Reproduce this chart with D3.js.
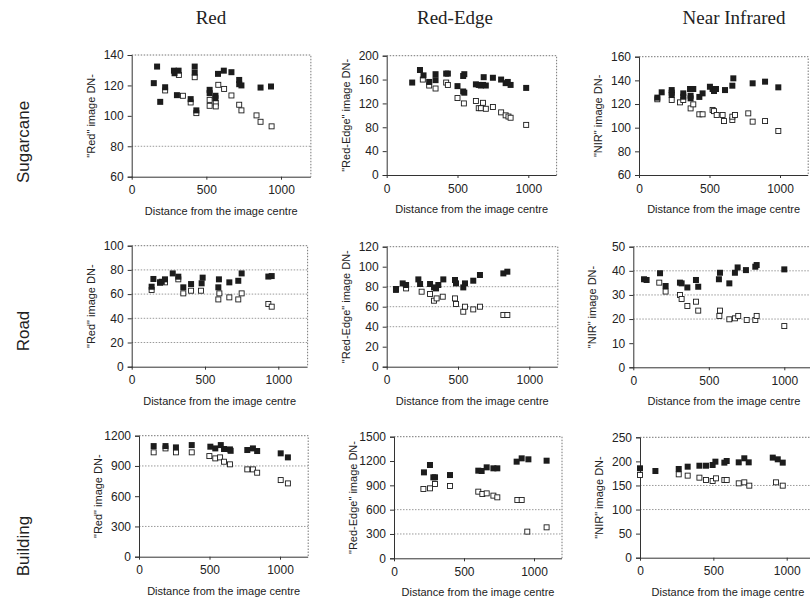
<!DOCTYPE html>
<html><head><meta charset="utf-8">
<script src="https://cdn.jsdelivr.net/npm/d3@7"></script>
<style>body{margin:0;background:#fff}</style>
</head><body><svg id="c" width="810" height="601"></svg>
<script>
// ---------- labels ----------
const bandTitles = ["Red", "Red-Edge", "Near Infrared"];
const coverTitles = ["Sugarcane", "Road", "Building"];
const yTitles = ['"Red" image DN-', '"Red-Edge" image DN-', '"NIR" image DN-'];
const xTitle = "Distance from the image centre";
const xTickValues = [0, 500, 1000];
const xDomain = [0, 1200];

// ---------- y tick labels per panel (row-major) ----------
const yTicksSugarRed = [60, 80, 100, 120, 140];
const yTicksSugarEdge = [0, 40, 80, 120, 160, 200];
const yTicksSugarNir = [60, 80, 100, 120, 140, 160];
const yTicksRoadRed = [0, 20, 40, 60, 80, 100];
const yTicksRoadEdge = [0, 20, 40, 60, 80, 100, 120];
const yTicksRoadNir = [0, 10, 20, 30, 40, 50];
const yTicksBldRed = [0, 300, 600, 900, 1200];
const yTicksBldEdge = [0, 300, 600, 900, 1200, 1500];
const yTicksBldNir = [0, 50, 100, 150, 200, 250];

// ---------- data: [distance, DN] ; filled = one series, open = other ----------
const sugarRedFilled = [[148,121.5],[170,132.4],[191,109.2],[224,118.8],[283,129.7],[287,128],[314,129.7],[303,113.6],[395,111],[422,132.4],[422,128.4],[433,103.6],[522,117.1],[522,114.9],[561,113.2],[561,111.6],[578,127.6],[617,129.7],[668,128.7],[720,123.6],[720,120.8],[735,120],[863,118.6],[933,119.3]];
const sugarRedOpen = [[224,116.7],[316,126.9],[343,113.2],[395,108.8],[422,125.4],[433,101.8],[522,110.5],[522,106.6],[563,108.4],[563,106.2],[580,120.4],[619,117.7],[668,113.4],[720,107.3],[735,103.6],[836,100.3],[863,96.1],[937,93.1]];

const sugarEdgeFilled = [[180,155],[235,176],[260,167],[300,156],[345,169],[345,159],[420,170],[432,170],[500,149],[540,166],[548,169],[540,140],[548,138],[630,152],[650,151],[665,150],[680,151],[685,164],[700,150],[750,163],[808,160],[840,154],[855,156],[875,151],[985,146]];
const sugarEdgeOpen = [[255,160],[300,150],[345,145],[420,155],[432,151],[500,129],[545,120],[630,124],[650,112],[665,112],[680,121],[700,111],[750,114],[808,105],[840,100],[860,98],[875,96],[985,84]];

const sugarNirFilled = [[130,125.4],[161,129.9],[232,131.8],[232,129.6],[232,127.6],[314,129],[314,126.2],[362,132.7],[385,132.7],[366,127],[366,124.8],[428,126],[451,129],[503,134.6],[522,132.7],[532,131],[546,132.7],[610,131.8],[662,135.5],[669,141.7],[806,137.5],[894,138.9],[988,134.1]];
const sugarNirOpen = [[130,124],[232,123.4],[291,121.4],[314,123.4],[366,116.3],[385,119.7],[428,111.3],[451,111.3],[522,115],[532,114],[551,110.7],[593,110.7],[603,105.6],[662,106.5],[662,109.3],[681,110.7],[775,112.1],[806,105.1],[894,105.6],[988,97.2]];

const roadRedFilled = [[136,66.1],[148,72.5],[193,69.7],[205,70.2],[227,72.2],[280,77.1],[318,74.4],[352,65.6],[405,68.3],[477,68.9],[484,73.6],[591,65.6],[595,72.2],[666,69.7],[727,71],[750,77.1],[932,74.5],[955,74.9]];
const roadRedOpen = [[136,63.4],[193,69.4],[227,69.7],[318,72.2],[352,60.6],[405,62.8],[473,62.8],[591,55.6],[598,60.6],[666,57.3],[727,55.6],[750,60.6],[932,51.8],[955,49.6]];

const roadEdgeFilled = [[65,77.7],[112,83.3],[136,81.7],[222,87.3],[234,82.7],[304,82.7],[332,79.3],[346,78.3],[362,81.7],[397,87.3],[479,86.7],[486,83.3],[537,79.3],[549,83.3],[607,86],[654,91.7],[818,93.3],[846,95]];
const roadEdgeOpen = [[65,76.7],[136,78.3],[245,75],[304,72.7],[332,66],[350,68.3],[393,70],[479,68.3],[486,62.7],[537,55],[549,60],[607,57.3],[654,60],[818,51.7],[846,51.7]];

const roadNirFilled = [[71,36.5],[88,36.2],[177,39],[214,33.7],[309,35.1],[320,34.8],[358,33.1],[415,36.2],[430,33.4],[567,36.5],[574,39.2],[636,34.8],[673,39.2],[691,41.4],[746,40.3],[808,41.7],[817,42.4],[1000,40.6]];
const roadNirOpen = [[172,35.1],[214,31.4],[309,30],[320,28.3],[358,25.4],[415,27.2],[430,23.5],[570,21.3],[574,23.5],[636,19.9],[673,20.3],[695,21.3],[751,19.6],[808,19.6],[817,21.3],[1000,17.1]];

const bldRedFilled = [[104,1097],[188,1097],[262,1084],[374,1107],[506,1091],[541,1074],[580,1107],[603,1068],[645,1064],[650,1050],[768,1058],[808,1074],[838,1048],[1005,1025],[1056,985]];
const bldRedOpen = [[104,1035],[188,1074],[262,1035],[374,1035],[499,998],[541,975],[575,985],[603,942],[645,916],[768,866],[808,866],[838,833],[1005,760],[1056,727]];

const bldEdgeFilled = [[214,1060],[257,1151],[281,999],[293,999],[400,1027],[602,1081],[626,1077],[662,1122],[710,1110],[738,1110],[876,1192],[912,1233],[960,1221],[1090,1204]];
const bldEdgeOpen = [[210,855],[257,863],[293,916],[400,892],[602,822],[631,793],[662,801],[710,773],[738,752],[881,719],[912,719],[952,329],[1090,382]];

const bldNirFilled = [[0,185.6],[105,180],[264,184.2],[325,189],[405,191],[450,191],[495,192.5],[514,199.4],[575,197.4],[591,200.8],[673,198],[711,206.4],[741,198],[905,207.8],[939,204.3],[973,197.4]];
const bldNirOpen = [[0,171.7],[264,173.1],[325,170.4],[405,166.2],[450,161.4],[495,159.3],[518,164.8],[575,161.4],[591,161.4],[673,154.4],[711,156.5],[745,149.6],[927,156.5],[973,149.6]];

// ---------- panel assembly ----------
const panels = [
  {row:0,col:0,filled:sugarRedFilled,open:sugarRedOpen,yTicks:yTicksSugarRed,grid:[80]},
  {row:0,col:1,filled:sugarEdgeFilled,open:sugarEdgeOpen,yTicks:yTicksSugarEdge,grid:[]},
  {row:0,col:2,filled:sugarNirFilled,open:sugarNirOpen,yTicks:yTicksSugarNir,grid:[]},
  {row:1,col:0,filled:roadRedFilled,open:roadRedOpen,yTicks:yTicksRoadRed,grid:[20,40,60,80]},
  {row:1,col:1,filled:roadEdgeFilled,open:roadEdgeOpen,yTicks:yTicksRoadEdge,grid:[40,60,80]},
  {row:1,col:2,filled:roadNirFilled,open:roadNirOpen,yTicks:yTicksRoadNir,grid:[20,30,40]},
  {row:2,col:0,filled:bldRedFilled,open:bldRedOpen,yTicks:yTicksBldRed,grid:[300,900]},
  {row:2,col:1,filled:bldEdgeFilled,open:bldEdgeOpen,yTicks:yTicksBldEdge,grid:[300,600]},
  {row:2,col:2,filled:bldNirFilled,open:bldNirOpen,yTicks:yTicksBldNir,grid:[100,150]}
];
// geometry (pixels) for each panel
const geom = [
  {l:131.7,k:149.3,t:55,b:176.7},{l:386.7,k:141.6,t:55.7,b:175},{l:639,k:141,t:56.7,b:175},
  {l:131.7,k:146.6,t:245.7,b:366.7},{l:386.7,k:142.6,t:246.7,b:366.7},{l:633.3,k:151,t:246.7,b:367.3},
  {l:139,k:141,t:435.7,b:556.7},{l:394,k:140,t:436.7,b:558.3},{l:640,k:146.7,t:437.3,b:557.7}
];

const svg = d3.select("#c");
const ink = "#1c1c1c";
const sans = "'Liberation Sans', Arial, sans-serif";

// column titles
const colCenters = [211, 455, 734];
svg.selectAll("text.col").data(bandTitles).join("text")
  .attr("x",(d,i)=>colCenters[i]).attr("y",24)
  .attr("text-anchor","middle").attr("font-family","'Liberation Serif','Times New Roman',serif")
  .attr("font-size",19).attr("fill","#222").text(d=>d);

// row titles
const rowCenters = [142, 331, 546];
coverTitles.forEach((d,i)=>{
  svg.append("text").attr("transform",`translate(29,${rowCenters[i]}) rotate(-90)`)
    .attr("text-anchor","middle").attr("font-family",sans).attr("font-size",17)
    .attr("fill","#222").text(d);
});

panels.forEach((p,i)=>{
  const g = geom[i];
  const yDom = [p.yTicks[0], p.yTicks[p.yTicks.length-1]];
  const x = d3.scaleLinear().domain(xDomain).range([g.l, g.l + g.k*1.2]);
  const y = d3.scaleLinear().domain(yDom).range([g.b, g.t]);
  const R = x.range()[1];
  const pg = svg.append("g");

  // gridlines
  pg.selectAll("line.grid").data(p.grid).join("line")
    .attr("x1",g.l).attr("x2",R).attr("y1",d=>y(d)).attr("y2",d=>y(d))
    .attr("stroke","#9a9a9a").attr("stroke-width",1).attr("stroke-dasharray","1.5,1.5");
  // top + right dotted border
  pg.append("path").attr("d",`M${g.l},${y(yDom[1])}H${R}V${y(yDom[0])}`)
    .attr("fill","none").attr("stroke","#777").attr("stroke-width",1).attr("stroke-dasharray","1.5,1.5");

  // axes
  const ya = d3.axisLeft(y).tickValues(p.yTicks).tickSize(4).tickPadding(4).tickFormat(d3.format("d"));
  const xa = d3.axisBottom(x).tickValues(xTickValues).tickSize(3).tickPadding(6).tickFormat(d3.format("d"));
  const yg = pg.append("g").attr("transform",`translate(${g.l},0)`).call(ya);
  const xg = pg.append("g").attr("transform",`translate(0,${g.b})`).call(xa);
  [yg,xg].forEach(a=>{
    a.select(".domain").attr("stroke","#333");
    a.selectAll(".tick line").attr("stroke","#333");
    a.selectAll(".tick text").attr("font-family",sans).attr("font-size",12).attr("fill","#222");
  });
  xg.select(".domain").attr("d",`M${g.l},0.5H${R}`);

  // axis titles
  pg.append("text").attr("x",(g.l+R)/2).attr("y",g.b+38)
    .attr("text-anchor","middle").attr("font-family",sans).attr("font-size",11).attr("fill","#222").text(xTitle);
  pg.append("text").attr("transform",`translate(${g.l-37},${(g.t+g.b)/2}) rotate(-90)`)
    .attr("text-anchor","middle").attr("font-family",sans).attr("font-size",11).attr("fill","#222").text(yTitles[p.col]);

  // open squares
  const so = 5;
  pg.selectAll("rect.open").data(p.open).join("rect")
    .attr("x",d=>x(d[0])-so/2).attr("y",d=>y(d[1])-so/2).attr("width",so).attr("height",so)
    .attr("fill","#fff").attr("stroke",ink).attr("stroke-width",0.9);
  // filled squares
  const sf = 6;
  pg.selectAll("rect.filled").data(p.filled).join("rect")
    .attr("x",d=>x(d[0])-sf/2).attr("y",d=>y(d[1])-sf/2).attr("width",sf).attr("height",sf)
    .attr("fill",ink);
});
</script></body></html>
